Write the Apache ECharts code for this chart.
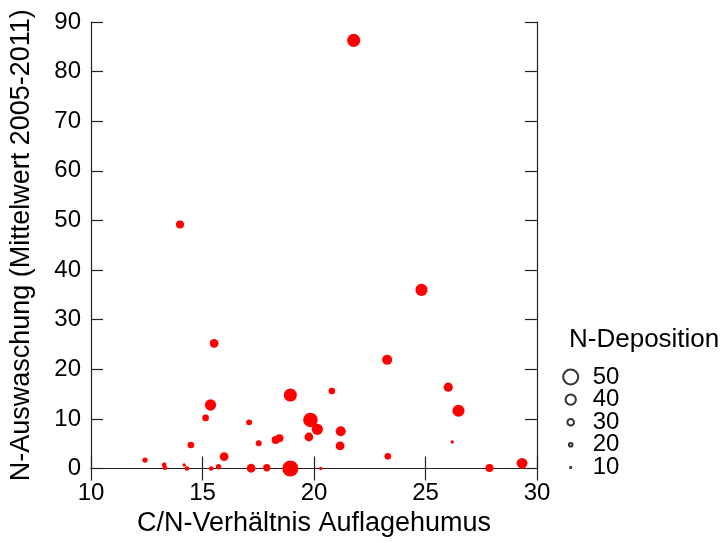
<!DOCTYPE html>
<html><head><meta charset="utf-8">
<script src="https://cdn.jsdelivr.net/npm/echarts@6/dist/echarts.min.js"></script>
<style>html,body{margin:0;padding:0;background:#fff}#c{width:727px;height:543px}</style>
</head><body><div id="c"></div>
<script>
// C/N ratio (x), N leaching (y), N deposition (size)
const cnRatio = [15.52,18.94,20.80,15.36,15.14,17.09,19.84,20.15,21.20,19.77,21.17,18.45,18.28,17.52,14.48,15.97,12.42,13.28,13.31,14.18,14.30,15.39,15.72,17.18,17.88,18.94,20.30,23.28,26.02,26.48,26.20,23.31,27.87,29.33,21.78,13.99,24.82];
const nLeach  = [25.2,14.8,15.6,12.8,10.2,9.3,9.8,7.9,7.5,6.35,4.55,6.1,5.75,5.1,4.75,2.4,1.7,0.75,0.15,0.7,0.0,0.0,0.35,0.05,0.15,0.0,0.0,21.9,16.4,11.65,5.35,2.45,0.1,1.05,86.3,49.2,36.0];
const nDep    = [36,46,30,42,30,28,49,42,39,36,36,34,34,28,30,36,26,24,24,19,24,24,26,36,32,52,19,39,37,44,19,30,34,41,46,34,44];
const legendValues = [10,20,30,40,50];
const xTicks = {min:10, max:30, interval:5};
const yTicks = {min:0, max:90, interval:10};

const sizeOf = v => 0.1*v + 0.004*v*v;
const font = 'Liberation Sans, Arial, sans-serif';
const lineC = '#222';
const points = cnRatio.map((x,i)=>[x, nLeach[i], nDep[i]]);
const legendData = legendValues.map((v,i)=>[0.5, i, v]);

const chart = echarts.init(document.getElementById('c'), null, {renderer:'canvas'});
const axisCommon = {
  axisLine:{show:true, lineStyle:{color:lineC, width:1.2}},
  axisTick:{show:true, inside:true, length:12, lineStyle:{color:lineC, width:1.2}},
  splitLine:{show:false}
};
chart.setOption({
  animation:false,
  backgroundColor:'#fff',
  title:{text:'N-Deposition', left:569, top:327, padding:0, textStyle:{fontFamily:font, fontSize:26, fontWeight:'normal', color:'#000'}},
  grid:[
    {left:90, right:190, top:22, bottom:74.5},
    {left:559.7, width:22, top:365.7, height:113}
  ],
  xAxis:[
    Object.assign({type:'value', gridIndex:0, position:'bottom', min:xTicks.min, max:xTicks.max, interval:xTicks.interval,
      name:'C/N-Verhältnis Auflagehumus', nameLocation:'middle', nameGap:40,
      nameTextStyle:{fontFamily:font, fontSize:27, color:'#000'},
      axisLabel:{fontFamily:font, fontSize:24, color:'#000', margin:13}}, axisCommon),
    Object.assign({type:'value', gridIndex:0, position:'top', min:xTicks.min, max:xTicks.max, interval:xTicks.interval,
      axisLabel:{show:false}}, axisCommon),
    {type:'value', gridIndex:1, min:0, max:1, show:false}
  ],
  yAxis:[
    Object.assign({type:'value', gridIndex:0, position:'left', min:yTicks.min, max:yTicks.max, interval:yTicks.interval,
      name:'N-Auswaschung (Mittelwert 2005-2011)', nameLocation:'middle', nameGap:56,
      nameTextStyle:{fontFamily:font, fontSize:27, color:'#000'},
      axisLabel:{fontFamily:font, fontSize:24, color:'#000', margin:10}}, axisCommon),
    Object.assign({type:'value', gridIndex:0, position:'right', min:yTicks.min, max:yTicks.max, interval:yTicks.interval,
      axisLabel:{show:false}}, axisCommon),
    {type:'category', gridIndex:1, position:'right', data:legendValues.map(String),
      axisLine:{show:false}, axisTick:{show:false}, splitLine:{show:false},
      axisLabel:{interval:0, fontFamily:font, fontSize:24, color:'#000', margin:11}}
  ],
  series:[
    {type:'scatter', xAxisIndex:0, yAxisIndex:0, data:points, clip:false,
      symbolSize:d=>sizeOf(d[2]), itemStyle:{color:'#ff0000', opacity:1}},
    {type:'scatter', xAxisIndex:2, yAxisIndex:2, data:legendData, symbol:'emptyCircle', clip:false,
      symbolSize:d=>sizeOf(d[2]), itemStyle:{color:'#000', borderColor:'#000', borderWidth:1}}
  ]
});
</script></body></html>
